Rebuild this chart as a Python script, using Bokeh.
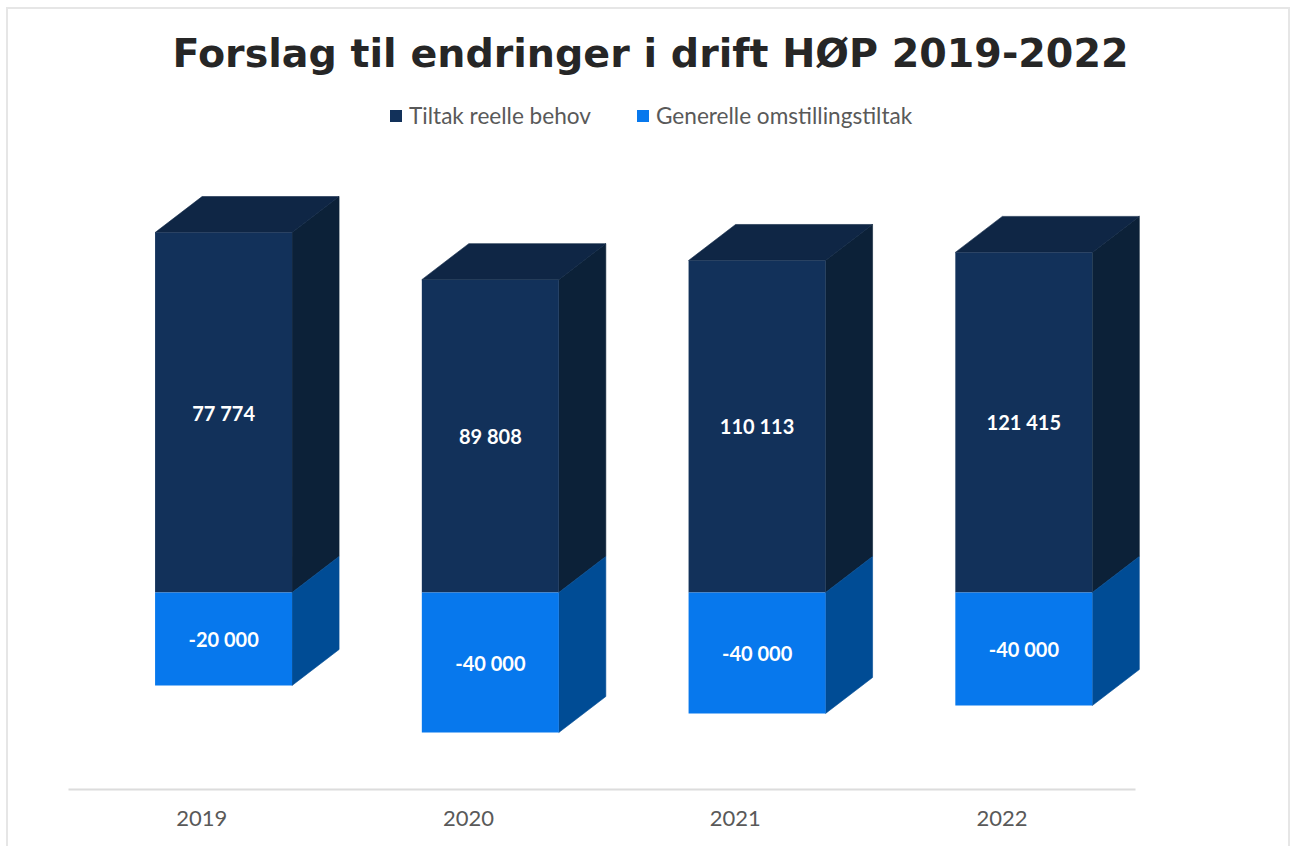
from bokeh.plotting import figure
from bokeh.models import ColumnDataSource, Legend, LegendItem, FixedTicker, Range1d
from bokeh.core.properties import value
from bokeh.embed import file_html
from bokeh.resources import INLINE

# ---- data ----
years = ["2019", "2020", "2021", "2022"]
tiltak_labels = ["77 774", "89 808", "110 113", "121 415"]
omstilling_labels = ["-20 000", "-40 000", "-40 000", "-40 000"]
# drawn bar sizes (printed labels differ from the drawn scale)
tiltak_heights = [78000, 67800, 71950, 73700]
omstilling_heights = [-20150, -30340, -26220, -24490]

TITLE = "Forslag til endringer i drift HØP 2019-2022"
SERIES = ["Tiltak reelle behov", "Generelle omstillingstiltak"]

# ---- styling ----
DARK_FRONT, DARK_TOP, DARK_SIDE = "#12315a", "#0f2645", "#0c2138"
LIGHT_FRONT, LIGHT_SIDE = "#0778ed", "#004c95"
units_per_px = 216.7
slot_px = 266.75
frame_left, frame_right = 68, 1150
axis_right = 1135
frame_top, frame_bottom = 80, 789
zero_px = 592
depth_x = 47 / slot_px
depth_y = 36 * units_per_px
bar_w = 137 / slot_px
bar_off = 21.7 / slot_px
edge = "#e6e6e6"

xs = list(range(len(years)))
lefts = [x + bar_off - bar_w / 2 for x in xs]
rights = [x + bar_off + bar_w / 2 for x in xs]
mids = [x + bar_off for x in xs]

p = figure(
    width=1290, height=846,
    output_backend="svg", toolbar_location=None,
    x_range=Range1d(-0.5, 3.5 + (frame_right - axis_right) / slot_px),
    y_range=Range1d(-(frame_bottom - zero_px) * units_per_px, (zero_px - frame_top) * units_per_px),
    min_border_left=frame_left, min_border_right=1290 - frame_right,
    min_border_top=frame_top, min_border_bottom=846 - frame_bottom,
    frame_height=frame_bottom - frame_top,
    title=TITLE,
    styles={"background": (
        f"linear-gradient({edge},{edge}) 6px 7px / 2px 100% no-repeat,"
        f"linear-gradient({edge},{edge}) 6px 7px / 1284px 2px no-repeat,"
        f"linear-gradient({edge},{edge}) 1288px 7px / 2px 100% no-repeat"
    )},
)
p.title.align = "left"
p.title.offset = 172 - frame_left
p.title.text_font = "DejaVu Sans"
p.title.text_font_style = "bold"
p.title.text_font_size = "39.6px"
p.title.text_color = "#262626"
p.outline_line_color = None
p.background_fill_color = None
p.border_fill_color = None
p.grid.visible = False
p.yaxis.visible = False

ax = p.xaxis[0]
ax.ticker = FixedTicker(ticks=xs)
ax.bounds = (-0.5, 3.5)
ax.major_label_overrides = {i: y for i, y in enumerate(years)}
ax.axis_line_color = "#dcdcdc"
ax.axis_line_width = 2
ax.major_tick_line_color = None
ax.minor_tick_line_color = None
ax.major_label_standoff = 15
ax.major_label_text_font = "Lato"
ax.major_label_text_font_size = "22px"
ax.major_label_text_color = "#595959"

# side & top faces
side_pos_x = [[r, r, r + depth_x, r + depth_x] for r in rights]
side_pos_y = [[0, h, h + depth_y, depth_y] for h in tiltak_heights]
top_x = [[l, r, r + depth_x, l + depth_x] for l, r in zip(lefts, rights)]
top_y = [[h, h, h + depth_y, h + depth_y] for h in tiltak_heights]
side_neg_x = [[r, r + depth_x, r + depth_x, r] for r in rights]
side_neg_y = [[0, depth_y, h + depth_y, h] for h in omstilling_heights]

p.patches(side_pos_x, side_pos_y, fill_color=DARK_SIDE, line_color=DARK_SIDE, line_width=0.6)
p.patches(top_x, top_y, fill_color=DARK_TOP, line_color=DARK_TOP, line_width=0.6)
p.patches(side_neg_x, side_neg_y, fill_color=LIGHT_SIDE, line_color=LIGHT_SIDE, line_width=0.6)

src = ColumnDataSource(dict(x=mids, pos=tiltak_heights, neg=omstilling_heights,
                            pos_mid=[h / 2 for h in tiltak_heights],
                            neg_mid=[h / 2 for h in omstilling_heights],
                            pos_lab=tiltak_labels, neg_lab=omstilling_labels))
r1 = p.vbar(x="x", top="pos", bottom=0, width=bar_w, fill_color=DARK_FRONT, line_color=None, source=src)
r2 = p.vbar(x="x", top=0, bottom="neg", width=bar_w, fill_color=LIGHT_FRONT, line_color=None, source=src)

for ycol, tcol in (("pos_mid", "pos_lab"), ("neg_mid", "neg_lab")):
    p.text(x="x", y=ycol, text=tcol, source=src, text_align="center", text_baseline="middle",
           text_color="#ffffff", text_font=value("Lato"), text_font_style="bold", text_font_size="20px")

legend = Legend(
    items=[LegendItem(label=SERIES[0], renderers=[r1]), LegendItem(label=SERIES[1], renderers=[r2])],
    orientation="horizontal",
    location=(388 - frame_left, frame_bottom - 130 + 1),
    background_fill_alpha=0, border_line_color=None,
    padding=0, margin=0, spacing=44,
    glyph_width=15, glyph_height=15, label_standoff=6,
    label_text_font="Lato", label_text_font_size="22.6px", label_text_color="#595959",
)
p.add_layout(legend, "center")

open("out.html", "w").write(file_html(p, INLINE))
